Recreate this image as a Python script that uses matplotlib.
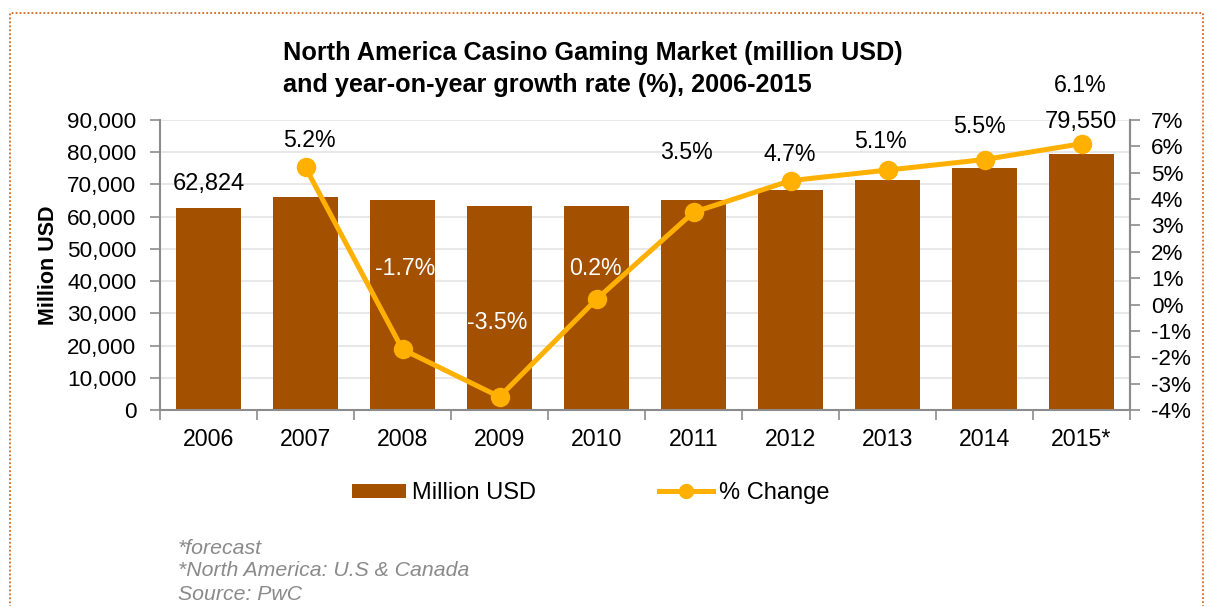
import matplotlib
matplotlib.use("Agg")
import matplotlib.pyplot as plt
from matplotlib.patches import Rectangle, Patch
from matplotlib.lines import Line2D
import numpy as np

# ---- data -------------------------------------------------------------
years = ["2006", "2007", "2008", "2009", "2010", "2011", "2012", "2013", "2014", "2015*"]
market_musd = [62824, 66200, 65300, 63300, 63300, 65200, 68300, 71400, 75100, 79550]
growth_pct = [np.nan, 5.2, -1.7, -3.5, 0.2, 3.5, 4.7, 5.1, 5.5, 6.1]
growth_labels = ["", "5.2%", "-1.7%", "-3.5%", "0.2%", "3.5%", "4.7%", "5.1%", "5.5%", "6.1%"]
bar_labels = {0: "62,824", 9: "79,550"}

left_ticks = list(range(0, 90001, 10000))
right_ticks = list(range(-4, 8))

# ---- style ------------------------------------------------------------
BAR = "#A35000"
LINE = "#FFB000"
SPINE = "#8C8C8C"
GRID = "#E8E8E8"
plt.rcParams["font.family"] = ["Liberation Sans", "DejaVu Sans"]

# label offsets (pixels) from each growth point: (dx, dy, colour)
growth_offsets = [None, (4, 27, "black"), (3, 81, "white"), (-2, 74, "white"),
                  (-1, 31, "white"), (-7, 60, "black"), (-1, 26, "black"),
                  (-7, 29, "black"), (-5, 33, "black"), (-1, 58, "black")]
bar_offsets = {0: (0, 24), 9: (-1, 32)}

W, H = 1206, 606
fig = plt.figure(figsize=(W / 100, H / 100), dpi=100)
ax = fig.add_axes([160 / W, 1 - 410 / H, (1130 - 160) / W, (410 - 120) / H])
ax2 = ax.twinx()

x = np.arange(len(years))
ax.bar(x, market_musd, width=0.66, color=BAR, zorder=2)
ax.set_xlim(-0.5, len(years) - 0.5)
ax.set_ylim(0, 90000)
ax.set_yticks(left_ticks)
ax.set_yticklabels([f"{v:,}" for v in left_ticks])
ax.yaxis.grid(True, color=GRID, linewidth=1.5, zorder=0)
ax.set_axisbelow(True)

# category labels centred, tick marks on category boundaries
ax.set_xticks(x)
ax.set_xticklabels(years, fontsize=16.7)
ax.tick_params(axis="x", length=0, pad=13)
ax.set_xticks(np.arange(-0.5, len(years)), minor=True)
ax.tick_params(axis="x", which="minor", length=7, width=1.2, color=SPINE, direction="out")
ax.tick_params(axis="y", length=7, width=1.2, color=SPINE, labelsize=16.2, pad=10)
ax.set_ylabel("Million USD", fontsize=15.5, fontweight="bold", labelpad=6)

for side in ["top"]:
    ax.spines[side].set_visible(False)
    ax2.spines[side].set_visible(False)
for sp in ["left", "bottom", "right"]:
    ax.spines[sp].set_color(SPINE)
    ax.spines[sp].set_linewidth(1.5)
ax2.spines["right"].set_color(SPINE)
ax2.spines["right"].set_linewidth(1.5)
ax2.spines["left"].set_visible(False)
ax2.spines["bottom"].set_visible(False)

ax2.plot(x, growth_pct, color=LINE, linewidth=3.6, marker="o", markersize=13,
         markerfacecolor=LINE, markeredgecolor=LINE, zorder=3)
ax2.set_ylim(-4, 7)
ax2.set_yticks(right_ticks)
ax2.set_yticklabels([f"{v}%" for v in right_ticks])
ax2.tick_params(axis="y", length=7, width=1.2, color=SPINE, labelsize=16.2, pad=8)

for i, lab in enumerate(growth_labels):
    if not lab:
        continue
    dx, dy, col = growth_offsets[i]
    ax2.annotate(lab, (x[i], growth_pct[i]), xytext=(dx, dy), textcoords="offset pixels",
                 ha="center", va="center", fontsize=16.7, color=col, zorder=5)

for i, lab in bar_labels.items():
    dx, dy = bar_offsets[i]
    ax.annotate(lab, (x[i], market_musd[i]), xytext=(dx, dy), textcoords="offset pixels",
                ha="center", va="center", fontsize=17, color="black", zorder=5)

# title
fig.text(283 / W, 1 - 69 / H,
         "North America Casino Gaming Market (million USD)\nand year-on-year growth rate (%), 2006-2015",
         ha="left", va="center", fontsize=18.2, fontweight="bold", linespacing=1.4)

# legend
handles = [Patch(facecolor=BAR, edgecolor="none"),
           Line2D([0], [0], color=LINE, linewidth=3.6, marker="o", markersize=10)]
fig.legend(handles, ["Million USD", "% Change"], loc="center", ncol=2,
           bbox_to_anchor=(591 / W, 1 - 493 / H), frameon=False, fontsize=17,
           handlelength=2.3, handletextpad=0.25, columnspacing=5.2, handleheight=0.55)

# footnotes
for k, line in enumerate(["*forecast", "*North America: U.S & Canada", "Source: PwC"]):
    fig.text(178 / W, 1 - (548 + 23 * k) / H, line, ha="left", va="center",
             fontsize=15.3, style="italic", color="#8A8A8A")

# dotted frame around the figure
fig.patches.append(Rectangle((10 / W, -0.05), (1203 - 10) / W, 1 - 13 / H + 0.05,
                             transform=fig.transFigure, fill=False, edgecolor="#D2691E",
                             linestyle=(0, (1, 1.2)), linewidth=1.3))

fig.savefig("out.png", dpi=100)
